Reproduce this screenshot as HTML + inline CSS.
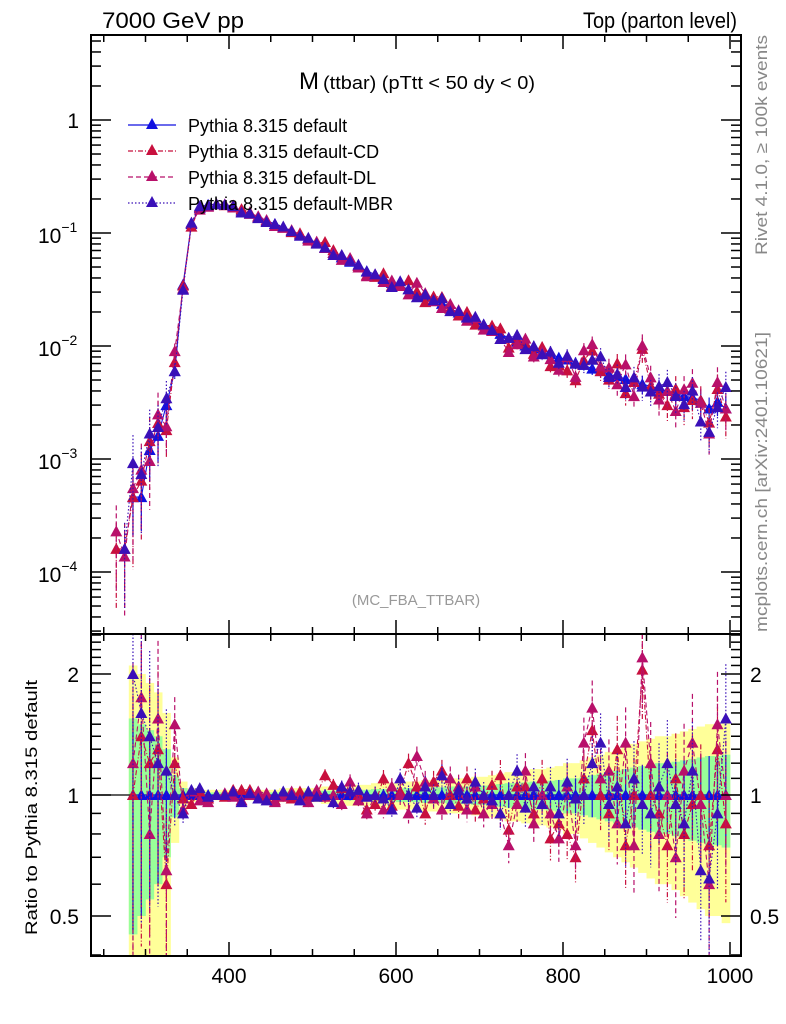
<!DOCTYPE html>
<html><head><meta charset="utf-8"><style>
body{margin:0;background:#fff;width:786px;height:1024px;overflow:hidden}
svg{display:block;font-family:"Liberation Sans",sans-serif}
</style></head><body>
<svg id="chart" width="786" height="1024" viewBox="0 0 786 1024" xmlns="http://www.w3.org/2000/svg">
<g id="bands"></g><g id="marks"></g><g id="covers"></g><g id="axes"></g><g id="legend"></g>
<g id="labels">
<text x="102" y="28" font-size="22" textLength="142" lengthAdjust="spacingAndGlyphs">7000 GeV pp</text>
<text x="583" y="28" font-size="22" textLength="154" lengthAdjust="spacingAndGlyphs">Top (parton level)</text>
<text x="299" y="89" font-size="24">M<tspan font-size="18" dx="4" textLength="212" lengthAdjust="spacingAndGlyphs">(ttbar) (pTtt &lt; 50 dy &lt; 0)</tspan></text>
<text x="416" y="605" font-size="15" fill="#999" text-anchor="middle">(MC_FBA_TTBAR)</text>
<text transform="translate(767,255) rotate(-90)" font-size="17" fill="#888" textLength="220" lengthAdjust="spacingAndGlyphs">Rivet 4.1.0, ≥ 100k events</text>
<text transform="translate(767,632) rotate(-90)" font-size="17" fill="#888" textLength="300" lengthAdjust="spacingAndGlyphs">mcplots.cern.ch [arXiv:2401.10621]</text>
<text transform="translate(37,935) rotate(-90)" font-size="17" textLength="255" lengthAdjust="spacingAndGlyphs">Ratio to Pythia 8.315 default</text>
</g>
</svg>
<script>
const centers=[255,265,275,285,295,305,315,325,335,345,355,365,375,385,395,405,415,425,435,445,455,465,475,485,495,505,515,525,535,545,555,565,575,585,595,605,615,625,635,645,655,665,675,685,695,705,715,725,735,745,755,765,775,785,795,805,815,825,835,845,855,865,875,885,895,905,915,925,935,945,955,965,975,985,995];
const defaultVals=[null,null,null,4.6e-4,4.6e-4,1.2e-3,1.6e-3,3e-3,6e-3,3.5e-2,0.120,0.166,0.178,0.180,0.178,0.170,0.158,0.148,0.138,0.129,0.120,0.112,0.104,0.0975,0.0891,0.0814,0.0744,0.0666,0.0609,0.0557,0.0510,0.0460,0.0430,0.0400,0.0362,0.0340,0.0318,0.0290,0.0272,0.0254,0.0236,0.0214,0.0198,0.0182,0.0168,0.0155,0.0143,0.0128,0.0118,0.0109,0.0101,0.0095,0.0089,0.0085,0.0079,0.0076,0.0071,0.0068,0.0063,0.0060,0.0056,0.0054,0.0051,0.0048,0.0046,0.0044,0.0042,0.0040,0.0038,0.0036,0.0035,0.0033,0.0028,0.0032,0.0028];
const ratioCD=[null,0.7,0.7,1.0,1.4,1.2,1.3,0.6,1.2,0.98,0.95,1.02,0.98,1.0,0.99,1.03,1.03,1.03,1.0,0.98,0.97,1.0,0.98,1.02,0.99,1.0,1.12,1.06,1.04,1.02,1.0,0.92,0.95,1.1,0.94,1.02,1.2,1.05,0.9,1.08,1.15,1.0,0.94,1.1,0.92,0.98,1.06,1.12,0.82,1.05,1.05,0.9,1.1,0.78,0.85,0.8,0.7,1.1,1.45,1.0,0.9,1.3,0.75,1.0,2.05,1.0,0.9,0.75,1.1,0.8,0.95,1.0,0.75,1.3,0.85];
const ratioDL=[null,1.0,0.6,1.2,1.75,0.8,1.55,0.65,1.5,0.92,1.02,0.97,0.96,1.0,1.01,0.99,0.97,1.0,1.02,1.01,0.96,0.99,1.02,0.98,0.96,1.03,0.99,1.0,0.95,1.08,0.97,0.9,1.0,0.92,1.05,1.0,0.9,1.25,1.08,0.98,0.92,1.1,1.05,0.92,1.05,0.9,0.95,0.9,0.75,0.95,1.15,0.85,1.0,0.9,0.78,1.05,0.75,1.35,1.65,1.1,1.15,0.85,1.35,0.75,2.2,1.2,0.8,1.0,0.7,1.15,1.35,0.95,0.6,1.5,1.0];
const ratioMBR=[null,null,0.7,2.0,1.6,1.4,1.2,1.15,1.0,0.9,1.03,1.04,0.99,1.0,1.0,1.02,0.96,1.01,0.98,0.97,1.0,1.02,1.0,0.97,1.02,0.99,1.0,0.96,1.05,1.02,1.03,0.99,1.0,0.98,0.92,1.1,1.0,0.93,1.05,1.0,1.12,0.95,1.03,0.98,1.08,1.0,0.97,0.9,1.0,1.15,0.93,1.05,0.95,1.05,0.9,1.08,0.98,1.0,1.2,1.35,0.95,1.05,0.85,1.1,0.95,0.9,1.05,1.2,0.95,0.85,1.15,0.65,0.62,0.9,1.55];
const relErr=[null,null,null,0.55,0.5,0.45,0.4,0.3,0.12,0.04,0.02,0.015,0.015,0.015,0.015,0.015,0.015,0.015,0.015,0.015,0.015,0.02,0.02,0.02,0.02,0.02,0.025,0.025,0.025,0.03,0.03,0.03,0.035,0.035,0.035,0.04,0.04,0.04,0.045,0.045,0.045,0.05,0.05,0.05,0.055,0.055,0.06,0.065,0.07,0.07,0.075,0.08,0.08,0.085,0.09,0.1,0.1,0.11,0.12,0.13,0.14,0.15,0.16,0.17,0.18,0.19,0.2,0.2,0.21,0.22,0.23,0.24,0.25,0.25,0.26];
const xTicks=[400,600,800,1000];
const mainTickLabels=[[0,"1"],[-1,"10"],[-2,"10"],[-3,"10"],[-4,"10"]];
const ratioTicks=[2,1,0.5];

const NS="http://www.w3.org/2000/svg";
function X(v){return 229+(v-400)*0.835;}
function YM(v){return 120-Math.log10(v)*113;}
function YR(r){return 795-Math.log10(r)*402;}
const MT=35,MB=634,RT=634,RB=956,L=91,R=741;
function mk(tag,attrs,parent){const e=document.createElementNS(NS,tag);for(const k in attrs)e.setAttribute(k,attrs[k]);parent.appendChild(e);return e;}
const bands=document.getElementById('bands'),marks=document.getElementById('marks'),axes=document.getElementById('axes'),legend=document.getElementById('legend'),covers=document.getElementById('covers');
function clipR(y){return Math.max(RT,Math.min(RB,y));}
function clipM(y){return Math.max(MT,Math.min(MB,y));}

for(let i=0;i<centers.length;i++){
  const e=relErr[i]; if(e==null) continue;
  const x0=X(centers[i]-5),x1=X(centers[i]+5);
  const ylo=clipR(YR(1+2*e)),yhi=clipR(YR(Math.max(0.01,1-2*e)));
  const y=mk('rect',{x:x0,y:ylo,width:x1-x0+0.3,height:yhi-ylo,fill:'#ffff99'},bands);
  
  
}
for(let i=0;i<centers.length;i++){
  const e=relErr[i]; if(e==null) continue;
  const x0=X(centers[i]-5),x1=X(centers[i]+5);
  const ylo=clipR(YR(1+e)),yhi=clipR(YR(Math.max(0.01,1-e)));
  const g=mk('rect',{x:x0,y:ylo,width:x1-x0+0.3,height:yhi-ylo,fill:'#99ff99'},bands);
  
  
}
const one=mk('line',{x1:L,x2:R,y1:YR(1),y2:YR(1),stroke:'#000','stroke-width':1.3},bands);



const series=[
 {name:'default',ratio:null,color:'#1010e0',dash:'',ef:1.0},
 {name:'cd',ratio:ratioCD,color:'#c8103e',dash:'5,2,1,2',ef:1.4},
 {name:'dl',ratio:ratioDL,color:'#b8106a',dash:'5,3',ef:1.4},
 {name:'mbr',ratio:ratioMBR,color:'#3a10b8',dash:'1.5,2',ef:1.4}
];
function tri(x,y,c,parent,nm){
  const t=mk('polygon',{points:`${x-6},${y+5} ${x+6},${y+5} ${x},${y-6}`,fill:c},parent);
  
  
}
series.forEach(s=>{
  const g=mk('g',{},marks);
  
  
  let pm=[],pr=[];
  for(let i=0;i<centers.length;i++){
    const d=defaultVals[i];
    const r=s.ratio?s.ratio[i]:(d!=null?1:null);
    let val=null;
    if(d!=null&&r!=null) val=d*r;
    else if(s.ratio&&r!=null&&d==null){val=1.6e-4*r/0.7;}
    if(val==null) continue;
    const x=X(centers[i]);
    const e=(relErr[i]||0.5)*s.ef;
    const ym=YM(val);
    pm.push([x,ym]);
    const eb=mk('line',{x1:x,x2:x,y1:clipM(YM(val*(1+e))),y2:clipM(YM(Math.max(1e-6,val*(1-e)))),stroke:s.color,'stroke-width':1.2,'stroke-dasharray':s.dash},g);
    
    
    if(ym<MB-3) tri(x,ym,s.color,g,'point-main');
    if(d!=null&&r!=null){
      const yr=YR(r);
      pr.push([x,clipR(yr)]);
      const er=mk('line',{x1:x,x2:x,y1:clipR(YR(r*(1+e))),y2:clipR(YR(Math.max(0.01,r*(1-e)))),stroke:s.color,'stroke-width':1.2,'stroke-dasharray':s.dash},g);
      
      
      if(yr>RT+3&&yr<RB-3) tri(x,yr,s.color,g,'point-ratio');
    }
  }
  const lm=mk('polyline',{points:pm.map(p=>p.join(',')).join(' '),fill:'none',stroke:s.color,'stroke-width':1.1,'stroke-dasharray':s.dash},g);
  
  
  const lr=mk('polyline',{points:pr.map(p=>p.join(',')).join(' '),fill:'none',stroke:s.color,'stroke-width':1.1,'stroke-dasharray':s.dash},g);
  
  
});
mk('rect',{x:0,y:0,width:L,height:1024,fill:'#fff'},covers);
mk('rect',{x:R,y:0,width:45,height:1024,fill:'#fff'},covers);

[[MT,MB,'main-frame'],[RT,RB,'ratio-frame']].forEach(f=>{
  const r=mk('rect',{x:L,y:f[0],width:R-L,height:f[1]-f[0],fill:'none',stroke:'#000','stroke-width':2},axes);
  
  
});
for(let v=250;v<=1000;v+=50){
  const x=X(v); const big=(v%200===0);
  const h=big?14:7;
  [[MT,1],[MB,-1],[RT,1],[RB,-1]].forEach(([y,dir])=>{
    mk('line',{x1:x,x2:x,y1:y,y2:y+dir*h,stroke:'#000','stroke-width':1.5},axes);
  });
}
xTicks.forEach(v=>{
  const t=mk('text',{x:X(v),y:983,'font-size':21,'text-anchor':'middle'},axes);
  t.textContent=v;
  
  
});
for(let dec=-5;dec<=1;dec++){
  for(let m=1;m<10;m++){
    const v=m*Math.pow(10,dec); const y=YM(v);
    if(y<MT||y>MB) continue;
    const h=m===1?20:10;
    mk('line',{x1:L,x2:L+h,y1:y,y2:y,stroke:'#000','stroke-width':1.5},axes);
    mk('line',{x1:R,x2:R-h,y1:y,y2:y,stroke:'#000','stroke-width':1.5},axes);
  }
}
mainTickLabels.forEach(([p,lab])=>{
  const y=YM(Math.pow(10,p));
  if(p===0){
    const t=mk('text',{x:79,y:y+8,'font-size':21,'text-anchor':'end'},axes);
    t.textContent=lab;
    
    
  } else {
    const t=mk('text',{x:38,y:y+10,'font-size':21},axes);
    t.textContent=lab;
    const s=mk('tspan',{dy:-11,'font-size':14},t);s.textContent=String.fromCharCode(8722)+Math.abs(p);
    
    
  }
});
for(let r=0.4;r<=2.6;r+=0.1){
  const rr=Math.round(r*10)/10; const y=YR(rr);
  if(y<RT||y>RB) continue;
  const big=(rr===0.5||rr===1||rr===2);
  const h=big?20:10;
  mk('line',{x1:L,x2:L+h,y1:y,y2:y,stroke:'#000','stroke-width':1.5},axes);
  mk('line',{x1:R,x2:R-h,y1:y,y2:y,stroke:'#000','stroke-width':1.5},axes);
}
ratioTicks.forEach(r=>{
  const y=YR(r);
  const a=mk('text',{x:79,y:y+8,'font-size':21,'text-anchor':'end'},axes); a.textContent=r;
  
  
  const b=mk('text',{x:750,y:y+8,'font-size':21}, axes); b.textContent=r;
  
  
});
const legNames=['Pythia 8.315 default','Pythia 8.315 default-CD','Pythia 8.315 default-DL','Pythia 8.315 default-MBR'];
const legY=[125,151,177,203];
series.forEach((s,i)=>{
  const g=mk('g',{},legend);
  
  
  mk('line',{x1:128,x2:176,y1:legY[i],y2:legY[i],stroke:s.color,'stroke-width':1.3,'stroke-dasharray':s.dash},g);
  tri(152,legY[i]-1,s.color,g,'legend-marker');
  const t=mk('text',{x:188,y:legY[i]+7,'font-size':18},g);
  t.textContent=legNames[i];
});
</script>
</body></html>
